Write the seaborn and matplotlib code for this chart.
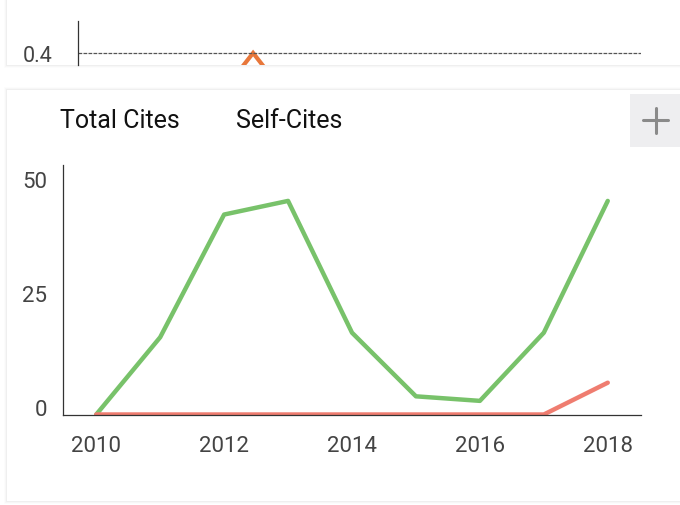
import matplotlib
matplotlib.use("Agg")
import matplotlib.pyplot as plt
import seaborn as sns
import pandas as pd
from matplotlib.patches import Rectangle
from matplotlib.lines import Line2D

# ---- data ----
years = [2010, 2011, 2012, 2013, 2014, 2015, 2016, 2017, 2018]
total_cites = [0, 17, 44, 47, 18, 4, 3, 18, 47]
self_cites = [0, 0, 0, 0, 0, 0, 0, 0, 7]
series_names = ["Total Cites", "Self-Cites"]
series_colors = ["#78C26A", "#EF7D70"]
y_ticks = [0, 25, 50]
x_ticks = [2010, 2012, 2014, 2016, 2018]

# clipped remnant of the chart above
top_x = [0.25, 0.311, 0.372]
top_y = [0.3, 0.4, 0.3]
top_tick = [0.4]

sns.set_theme(style="white")
plt.rcParams["font.family"] = ["Roboto", "DejaVu Sans"]

W, H = 680, 506
fig = plt.figure(figsize=(W / 100, H / 100), dpi=100)
fig.patch.set_facecolor("white")

def fx(px):
    return px / W

def fy(py):
    return 1 - py / H

# cards with soft shadow
def card(x0, y0, x1, y1):
    for i, a in enumerate([0.03, 0.02, 0.012]):
        fig.add_artist(Rectangle((fx(x0 - 1 - i), fy(y1 + 1 + i)), fx(x1 - x0 + 2 + 2 * i),
                                 (y1 - y0 + 2 + 2 * i) / H, transform=fig.transFigure,
                                 facecolor="black", alpha=a, edgecolor="none", zorder=-3))
    fig.add_artist(Rectangle((fx(x0), fy(y1)), fx(x1 - x0), (y1 - y0) / H,
                             transform=fig.transFigure, facecolor="white",
                             edgecolor="none", zorder=-2))

card(7, -10, 690, 66)
card(7, 91, 690, 502)

# ---- top remnant axes ----
axt = fig.add_axes([fx(78), fy(66), fx(641 - 78), (66 - 22) / H])
axt.set_zorder(2)
axt.set_facecolor("none")
axt.set_xlim(0, 1)
axt.set_ylim(0.3727, 0.4727)
axt.plot(top_x, top_y, color="#E8773A", lw=3.0, solid_joinstyle="miter")
axt.axhline(top_tick[0], color="#555555", lw=0.9, ls=(0, (3, 1)))
axt.set_yticks(top_tick)
axt.set_yticklabels(["0.4"], fontsize=15.5, color="#444444", va="center_baseline")
axt.set_xticks([])
for s in ["top", "right", "bottom"]:
    axt.spines[s].set_visible(False)
axt.spines["left"].set_color("#333333")
axt.spines["left"].set_linewidth(0.9)
axt.tick_params(axis="y", length=0, pad=18)

# ---- main axes ----
df = pd.DataFrame({
    "year": years * 2,
    "cites": total_cites + self_cites,
    "series": [series_names[0]] * len(years) + [series_names[1]] * len(years),
})

ax = fig.add_axes([fx(63), fy(415.5), fx(641 - 63), (415.5 - 166) / H])
ax.set_zorder(2)
ax.set_facecolor("none")
sns.lineplot(data=df, x="year", y="cites", hue="series", hue_order=series_names,
             palette=series_colors, linewidth=3.2, ax=ax, legend=False)
ax.set_xlim(2009.48, 2018.52)
ax.set_ylim(0, 54.9)
ax.set_xticks(x_ticks)
ax.set_xticklabels([str(t) for t in x_ticks], fontsize=16, color="#444444")
ax.set_yticks(y_ticks)
ax.set_yticklabels([str(t) for t in y_ticks], fontsize=16, color="#444444",
                   va="baseline")
ax.tick_params(axis="x", length=0, pad=15)
ax.tick_params(axis="y", length=0, pad=11.5)
ax.set_xlabel("")
ax.set_ylabel("")
for s in ["top", "right"]:
    ax.spines[s].set_visible(False)
for s in ["left", "bottom"]:
    ax.spines[s].set_color("#333333")
    ax.spines[s].set_linewidth(0.9)

# legend labels (text only)
fig.text(fx(60), fy(121), series_names[0], fontsize=18, color="#111111", va="center")
fig.text(fx(236), fy(121), series_names[1], fontsize=18, color="#111111", va="center")

# plus button
fig.add_artist(Rectangle((fx(630), fy(148)), fx(52), (148 - 95) / H,
                         transform=fig.transFigure, facecolor="#EEEEF0",
                         edgecolor="none", zorder=1))
fig.add_artist(Line2D([fx(643), fx(668)], [fy(121), fy(121)], color="#8A8A8A", lw=2.2,
                      transform=fig.transFigure, zorder=2))
fig.add_artist(Line2D([fx(655.5), fx(655.5)], [fy(108.5), fy(133.5)], color="#8A8A8A",
                      lw=2.2, transform=fig.transFigure, zorder=2))

fig.savefig("out.png", dpi=100, facecolor="white")
